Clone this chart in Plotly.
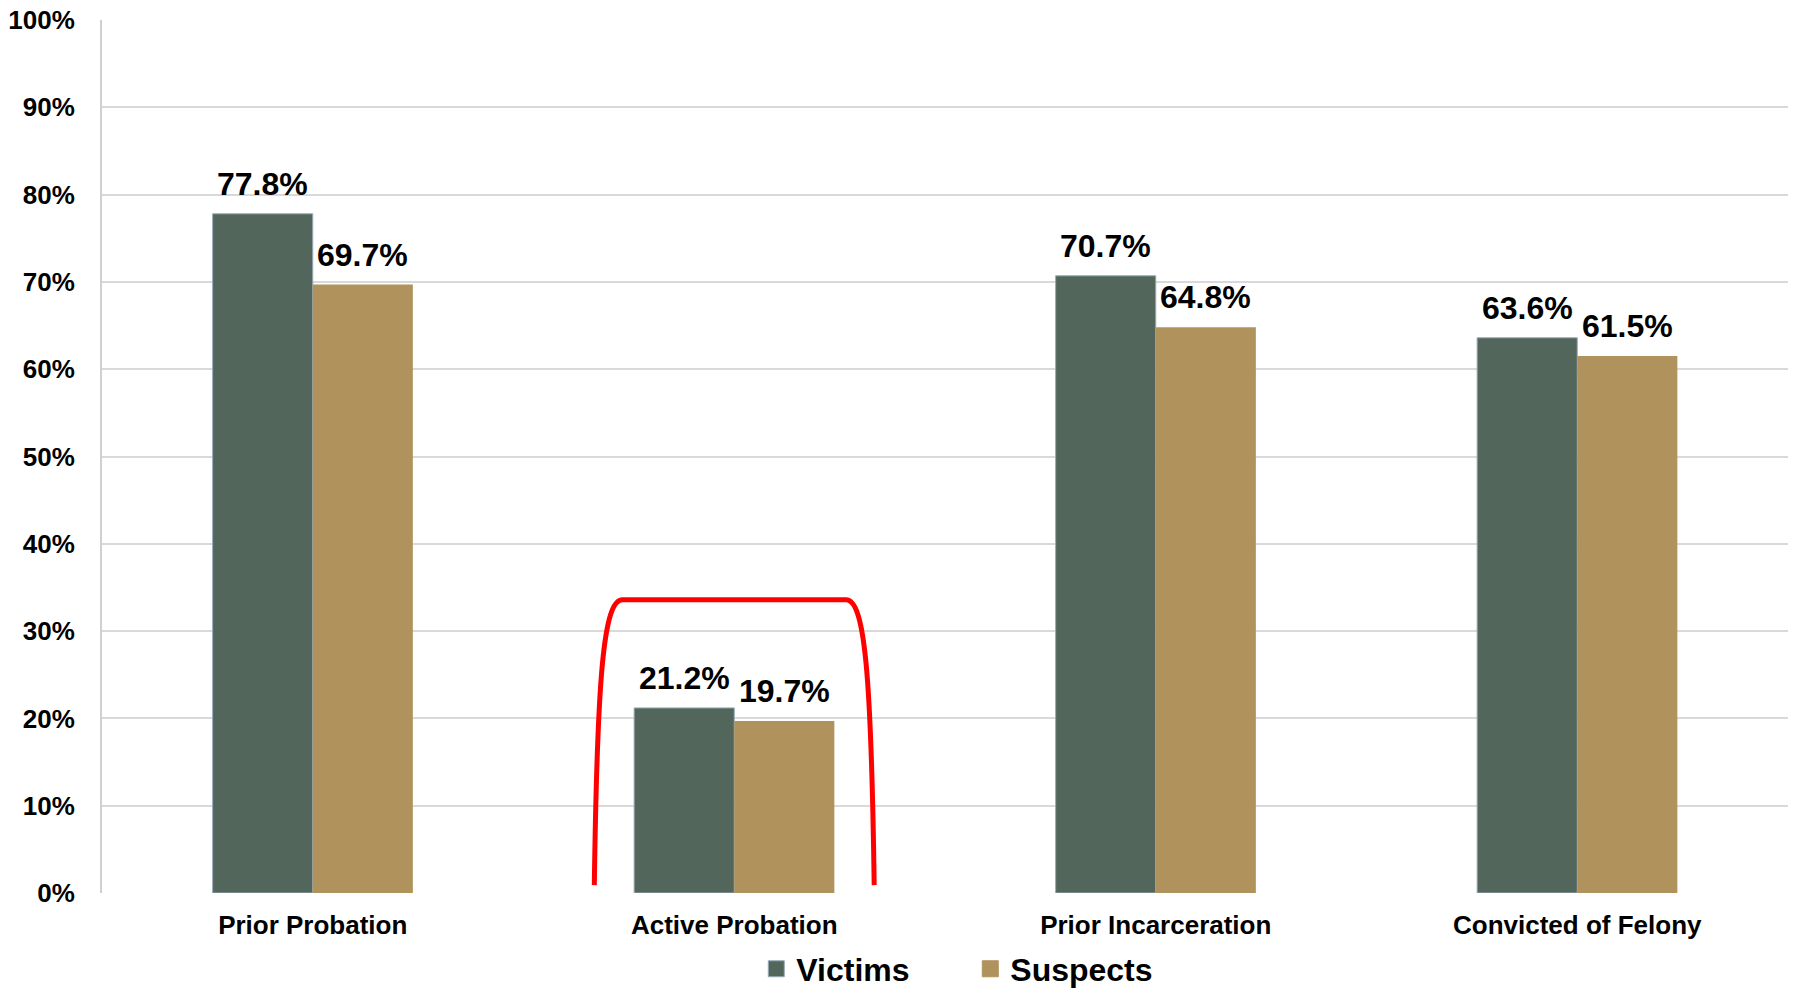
import plotly.graph_objects as go

# Share of victims / suspects with each criminal-history marker (percent)
categories = ["Prior Probation", "Active Probation", "Prior Incarceration", "Convicted of Felony"]
victims = [77.8, 21.2, 70.7, 63.6]
suspects = [69.7, 19.7, 64.8, 61.5]
y_ticks = list(range(0, 101, 10))
y_tick_text = [f"{v}%" for v in y_ticks]

VICTIM_COLOR = "#52665C"
SUSPECT_COLOR = "#B0935C"
FONT = "Liberation Sans, Arial, sans-serif"
BARGAP = 0.525

fig = go.Figure()
fig.add_trace(go.Bar(
    name="Victims", x=categories, y=victims, legendgroup="v", showlegend=False,
    marker=dict(color=VICTIM_COLOR, line=dict(color="#9AAAB8", width=1)),
))
fig.add_trace(go.Bar(
    name="Suspects", x=categories, y=suspects, legendgroup="s", showlegend=False,
    marker=dict(color=SUSPECT_COLOR, line=dict(width=0)),
))

# legend entries with larger square swatches
for name, color, grp, edge in (("Victims", VICTIM_COLOR, "v", "#9AAAB8"),
                               ("Suspects", SUSPECT_COLOR, "s", SUSPECT_COLOR)):
    fig.add_trace(go.Scatter(
        name=name, x=[None], y=[None], mode="markers", legendgroup=grp,
        marker=dict(symbol="square", size=16, color=color, line=dict(color=edge, width=1)),
    ))

# value labels above each bar, centred on the bar within its group
half = (1 - BARGAP) / 4
annotations = []
for i, (v, s) in enumerate(zip(victims, suspects)):
    for xpos, val in ((i - half, v), (i + half, s)):
        annotations.append(dict(
            x=xpos, y=val, xref="x", yref="y", text=f"{val:.1f}%",
            showarrow=False, yanchor="bottom", xanchor="center", yshift=10,
            font=dict(family=FONT, size=32, color="black", weight="bold"),
        ))

# red bracket highlighting the Active Probation group
c = categories.index("Active Probation")
bottom, top = 0.9, 33.6
path = (
    f"M {c - 0.332},{bottom} "
    f"C {c - 0.325},25 {c - 0.310},{top} {c - 0.265},{top} "
    f"L {c + 0.265},{top} "
    f"C {c + 0.310},{top} {c + 0.325},25 {c + 0.332},{bottom}"
)
shapes = [dict(type="path", path=path, xref="x", yref="y",
               line=dict(color="#FF0000", width=5), fillcolor="rgba(0,0,0,0)")]

fig.update_layout(
    width=1795, height=990,
    margin=dict(l=102, r=7, t=20, b=97, autoexpand=False),
    paper_bgcolor="white", plot_bgcolor="white",
    barmode="group", bargap=BARGAP, bargroupgap=0,
    font=dict(family=FONT, color="black"),
    annotations=annotations, shapes=shapes,
    showlegend=True,
    legend=dict(
        orientation="h", x=0.515, xanchor="center", y=-0.087, yanchor="middle",
        font=dict(family=FONT, size=32, color="black", weight="bold"),
        entrywidth=169, entrywidthmode="pixels", itemclick=False,
        bgcolor="rgba(0,0,0,0)",
    ),
    xaxis=dict(
        type="category", showgrid=False, showline=False, zeroline=False,
        ticks="", ticklabelstandoff=14,
        tickfont=dict(family=FONT, size=26, color="black", weight="bold"),
    ),
    yaxis=dict(
        range=[0, 100], tickvals=y_ticks, ticktext=y_tick_text,
        showgrid=True, gridcolor="#D9D9D9", gridwidth=2,
        showline=True, linecolor="#D0D0D0", linewidth=2,
        zeroline=False, ticks="", ticklabelstandoff=20,
        tickfont=dict(family=FONT, size=26, color="black", weight="bold"),
    ),
)

fig.write_html("out.html")
